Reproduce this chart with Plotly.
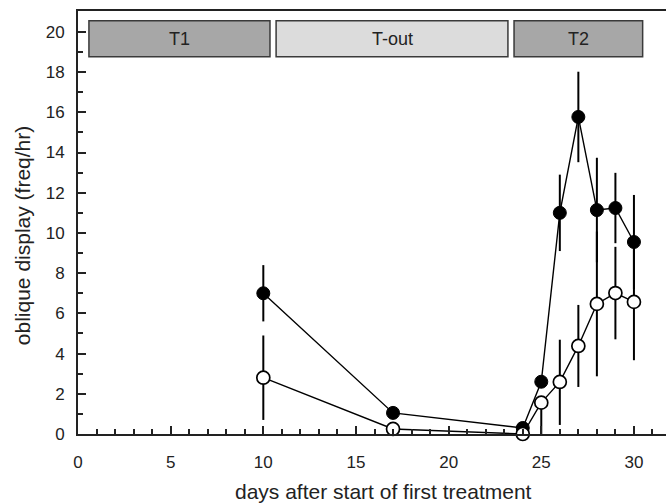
import plotly.graph_objects as go

# ---- data ----
days = [10, 17, 24, 25, 26, 27, 28, 29, 30]
filled_y = [7.0, 1.05, 0.3, 2.6, 11.0, 15.77, 11.14, 11.24, 9.55]
filled_err_plus = [1.4, 0, 0, 0, 1.9, 2.25, 2.6, 1.75, 2.34]
filled_err_minus = [1.4, 0, 0, 0, 1.9, 2.25, 2.6, 1.75, 2.34]
open_y = [2.8, 0.25, 0.0, 1.56, 2.59, 4.38, 6.47, 7.01, 6.57]
open_err_plus = [2.1, 0, 0, 0, 2.1, 2.04, 3.6, 2.3, 2.9]
open_err_minus = [2.1, 0, 0, 1.56, 2.14, 2.04, 3.6, 2.3, 2.9]

phase_labels = ["T1", "T-out", "T2"]
phase_start = [0.59, 10.69, 23.53]
phase_end = [10.36, 23.2, 30.47]
phase_colors = ["#a7a7a7", "#dcdcdc", "#a7a7a7"]
phase_y0, phase_y1 = 18.76, 20.55

x_title = "days after start of first treatment"
y_title = "oblique display (freq/hr)"

FONT = "Liberation Sans, Arial, Helvetica, sans-serif"

fig = go.Figure()

fig.add_trace(go.Scatter(
    x=days, y=filled_y, mode="lines+markers",
    line=dict(color="black", width=1.4),
    marker=dict(size=13, color="black", line=dict(color="black", width=1)),
    error_y=dict(type="data", array=filled_err_plus, arrayminus=filled_err_minus,
                 symmetric=False, width=0, thickness=2, color="black"),
    cliponaxis=False, showlegend=False))

fig.add_trace(go.Scatter(
    x=days, y=open_y, mode="lines+markers",
    line=dict(color="black", width=1.4),
    marker=dict(size=13, color="white", line=dict(color="black", width=1.7)),
    error_y=dict(type="data", array=open_err_plus, arrayminus=open_err_minus,
                 symmetric=False, width=0, thickness=2, color="black"),
    cliponaxis=False, showlegend=False))

for lab, s, e, c in zip(phase_labels, phase_start, phase_end, phase_colors):
    fig.add_shape(type="rect", x0=s, x1=e, y0=phase_y0, y1=phase_y1,
                  fillcolor=c, line=dict(color="#3a3a3a", width=1.5), layer="above")
    fig.add_annotation(x=(s + e) / 2, y=(phase_y0 + phase_y1) / 2, text=lab,
                       showarrow=False, font=dict(family=FONT, size=18, color="#222"))

# axis titles placed as text to match the reference's offsets
fig.add_annotation(xref="paper", yref="paper", x=-0.095, y=0.468, text=y_title,
                   textangle=-90, showarrow=False, xanchor="center", yanchor="middle",
                   font=dict(family=FONT, size=21, color="#222"))
fig.add_annotation(xref="paper", yref="paper", x=0.52, y=-0.136, text=x_title,
                   showarrow=False, xanchor="center", yanchor="middle",
                   font=dict(family=FONT, size=21, color="#222"))

fig.update_xaxes(
    range=[0, 31.73], showline=True, linecolor="#222", linewidth=2, mirror=True,
    ticks="inside", ticklen=8, tickwidth=1.5, tickcolor="#222", dtick=5, tick0=0,
    minor=dict(ticks="inside", dtick=1, ticklen=5, tickwidth=1.5, tickcolor="#222"),
    showgrid=False, zeroline=False,
    tickfont=dict(family=FONT, size=17, color="#222"), ticklabelstandoff=12)

fig.update_yaxes(
    range=[0, 21.04], showline=True, linecolor="#222", linewidth=2,
    ticks="inside", ticklen=8, tickwidth=1.5, tickcolor="#222", dtick=2, tick0=0,
    minor=dict(ticks="inside", tickvals=[1, 3, 5, 7, 9, 11, 13, 15, 17, 19],
               ticklen=5, tickwidth=1.5, tickcolor="#222"),
    showgrid=False, zeroline=False,
    tickfont=dict(family=FONT, size=17, color="#222"), ticklabelstandoff=8)

fig.update_layout(
    width=666, height=503,
    margin=dict(l=78, r=0, t=11, b=69),
    paper_bgcolor="white", plot_bgcolor="white",
    font=dict(family=FONT, color="#222"))

fig.write_html("out.html")
